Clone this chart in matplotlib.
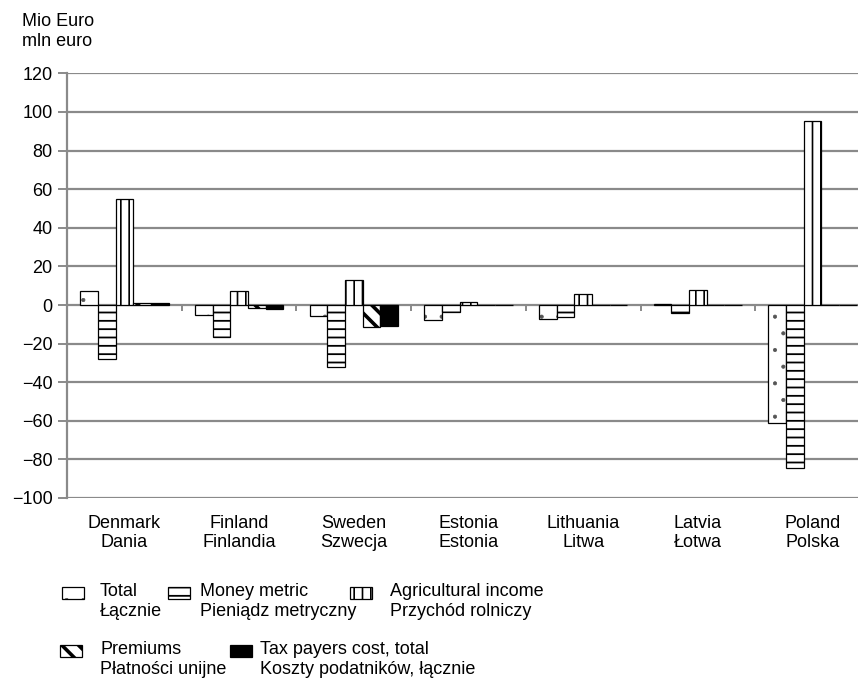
import matplotlib
matplotlib.use("Agg")
import matplotlib.pyplot as plt
from matplotlib.patches import Rectangle
import numpy as np

plt.rcParams['font.family'] = ['Liberation Sans', 'DejaVu Sans']
plt.rcParams['hatch.linewidth'] = 1.2

categories = ["Denmark\nDania", "Finland\nFinlandia", "Sweden\nSzwecja", "Estonia\nEstonia",
              "Lithuania\nLitwa", "Latvia\nŁotwa", "Poland\nPolska"]
total = [7.5, -5.2, -5.5, -8.0, -7.4, 0.3, -61.3]
money_metric = [-28.0, -16.4, -32.0, -3.8, -6.4, -4.0, -84.6]
agri_income = [55.0, 7.4, 13.0, 1.4, 5.7, 7.8, 95.5]
premiums = [0.8, -1.6, -11.2, 0.0, 0.0, 0.0, 0.0]
tax_cost = [0.8, -2.0, -11.0, 0.0, 0.0, 0.0, 0.0]

series_labels = ["Total\nŁącznie", "Money metric\nPieniądz metryczny",
                 "Agricultural income\nPrzychód rolniczy", "Premiums\nPłatności unijne",
                 "Tax payers cost, total\nKoszty podatników, łącznie"]
yticks = list(range(-100, 121, 20))

W, H = 858, 682
fig = plt.figure(figsize=(W / 100, H / 100), dpi=100)
x0, slot = 67, 114.7
y_top, y_bot = 73.4, 498
ax = fig.add_axes([x0 / W, (H - y_bot) / H, (W - x0) / W, (y_bot - y_top) / H])

grey = '#8a8a8a'
series = [total, money_metric, agri_income, premiums, tax_cost]
styles = [dict(facecolor='white', hatch='.'),
          dict(facecolor='white', hatch='--'),
          dict(facecolor='white', hatch='||'),
          dict(facecolor='white', hatch='\\\\'),
          dict(facecolor='black', hatch=None)]
hatch_lw = [0.5, 1.3, 1.2, 2.6, 1.0]


def set_hlw(p, lw):
    try:
        p.set_hatch_linewidth(lw)
    except AttributeError:
        pass


bw = 17.7 / slot
centers = np.arange(len(categories)) + 0.5
for k, (vals, st) in enumerate(zip(series, styles)):
    xs = centers + (k - 2) * bw
    if k == 0:
        # dotted fill in grey, outline in black
        bars = ax.bar(xs, vals, width=bw, facecolor='white', edgecolor='#555555',
                      hatch='.', linewidth=0, zorder=3)
        for b in bars:
            set_hlw(b, hatch_lw[k])
        ax.bar(xs, vals, width=bw, facecolor='none', edgecolor='black', linewidth=0.9, zorder=3)
    else:
        bars = ax.bar(xs, vals, width=bw, edgecolor='black', linewidth=0.9, zorder=3, **st)
        for b in bars:
            set_hlw(b, hatch_lw[k])

ax.set_ylim(-100, 120)
ax.set_xlim(0, (W - x0) / slot)
ax.set_yticks(yticks)
ax.set_yticklabels([str(v).replace('-', '\u2212') for v in yticks], fontsize=13)
ax.yaxis.grid(True, color=grey, linewidth=1.6, zorder=0)
ax.set_axisbelow(True)
for s in ['top', 'right', 'bottom']:
    ax.spines[s].set_visible(False)
ax.spines['left'].set_color(grey)
ax.spines['left'].set_linewidth(1.6)
ax.tick_params(axis='y', length=6.5, width=1.4, color=grey, pad=4)

ax.set_xticks(centers)
ax.set_xticklabels(categories, fontsize=13, linespacing=1.15)
ax.tick_params(axis='x', length=0, pad=12)

sec = ax.secondary_xaxis(100 / 220)
sec.set_xticks(np.arange(1, len(categories)))
sec.set_xticklabels([])
sec.tick_params(axis='x', direction='out', length=4, width=1.4, color=grey)
sec.spines['bottom'].set_visible(False)

fig.text(22 / W, 1 - 13 / H, "Mio Euro\nmln euro", fontsize=13, va='top', ha='left',
         linespacing=1.2)

# manual legend
icon_pos = [(62, 587, 100), (168, 587, 200), (350, 587, 390), (60, 645, 100), (230, 645, 260)]
for k, ((ix, iy, tx), st, lab) in enumerate(zip(icon_pos, styles, series_labels)):
    if k == 0:
        r = Rectangle((ix / W, 1 - (iy + 12) / H), 22 / W, 12 / H, transform=fig.transFigure,
                      facecolor='white', edgecolor='#555555', hatch='.', linewidth=0)
        set_hlw(r, hatch_lw[k])
        fig.patches.append(r)
        r = Rectangle((ix / W, 1 - (iy + 12) / H), 22 / W, 12 / H, transform=fig.transFigure,
                      facecolor='none', edgecolor='black', linewidth=0.9)
    else:
        r = Rectangle((ix / W, 1 - (iy + 12) / H), 22 / W, 12 / H, transform=fig.transFigure,
                      edgecolor='black', linewidth=0.9, **st)
        set_hlw(r, hatch_lw[k])
    fig.patches.append(r)
    fig.text(tx / W, 1 - (iy - 4) / H, lab, fontsize=13, va='top', ha='left', linespacing=1.2)

fig.savefig("out.png", dpi=100)
